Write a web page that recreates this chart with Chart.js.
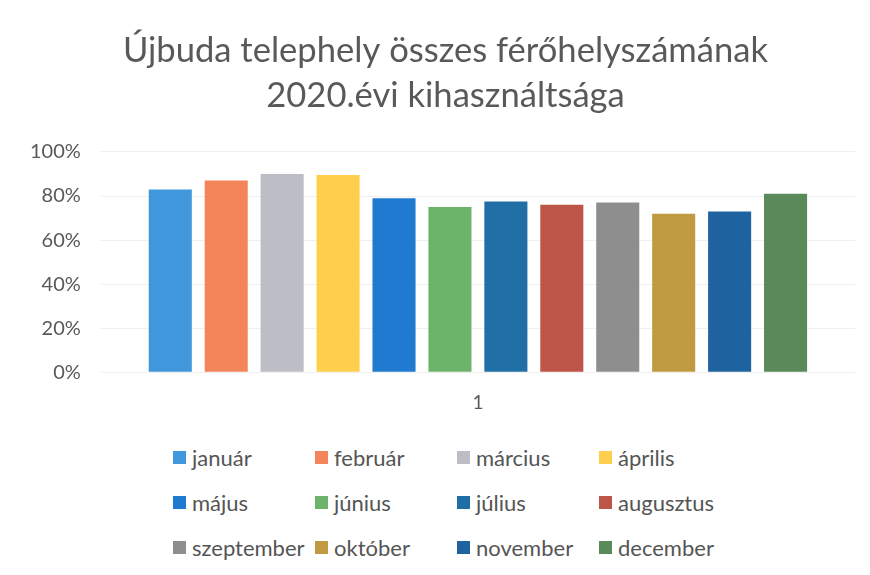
<!DOCTYPE html>
<html lang="hu">
<head>
<meta charset="utf-8">
<script src="https://cdn.jsdelivr.net/npm/chart.js@4"></script>
<style>
  body { margin: 0; background: #fff; }
  #wrap { position: relative; width: 870px; height: 575px; background: #fff; }
  #kihasznaltsag { position: absolute; left: 0; top: 0; }
  #legend {
    position: absolute; left: 173px; top: 435px;
    display: grid; grid-template-columns: 142px 142px 142px 142px;
    grid-auto-rows: 45px;
    font-family: Lato, sans-serif; font-size: 22px; color: #555;
  }
  .item { display: flex; align-items: center; white-space: nowrap; }
  .box { width: 13px; height: 13px; margin-right: 6px; flex: none; }
</style>
</head>
<body>
<div id="wrap">
  <canvas id="kihasznaltsag" width="870" height="431"></canvas>
  <div id="legend"></div>
</div>
<script>
const honapok = ['január', 'február', 'március', 'április', 'május', 'június',
                 'július', 'augusztus', 'szeptember', 'október', 'november', 'december'];
const ertekek = [83, 87, 90, 89.5, 79, 75, 77.5, 76, 77, 72, 73, 81];
const szinek = ['#4197dc', '#f4845a', '#bdbdc6', '#fdcf4d', '#1f7ad0', '#6bb46a',
                '#1f6ea6', '#bd5548', '#8e8e8e', '#c09a40', '#1e63a0', '#5a8a5a'];
const kategoriak = ['1'];
const cim = ['Újbuda telephely összes férőhelyszámának', '2020.évi kihasználtsága'];

const ctx = document.getElementById('kihasznaltsag');

// minden hónap külön adatsor, egyetlen kategóriában
const datasets = honapok.map((h, i) => ({
    label: h,
    data: [ertekek[i]],
    backgroundColor: szinek[i],
    barPercentage: 0.77,
    categoryPercentage: 0.89
}));

// a cím kicsit jobbra tolva, mint az eredetin
const cimEltolas = {
    id: 'cimEltolas',
    beforeDraw(chart) {
        chart.titleBlock.left = 36;
    }
};

new Chart(ctx, {
    type: 'bar',
    data: { labels: kategoriak, datasets: datasets },
    options: {
        responsive: false,
        animation: false,
        layout: { padding: { left: 10, right: 15, bottom: 6 } },
        plugins: {
            legend: { display: false },
            tooltip: { enabled: false },
            title: {
                display: true,
                text: cim,
                color: '#595959',
                font: { family: 'Lato', size: 34.6, weight: 'normal', lineHeight: 1.3 },
                padding: { top: 28, bottom: 34 }
            }
        },
        scales: {
            x: {
                grid: { display: false },
                border: { display: false },
                ticks: { color: '#595959', font: { family: 'Lato', size: 19 }, padding: 11 }
            },
            y: {
                min: 0,
                max: 100,
                ticks: {
                    stepSize: 20,
                    color: '#595959',
                    font: { family: 'Lato', size: 20 },
                    padding: 20,
                    callback: v => v + '%'
                },
                grid: { color: '#efefef', drawTicks: false },
                border: { display: false }
            }
        }
    },
    plugins: [cimEltolas]
});

// jelmagyarázat 4 oszlopban
const legend = document.getElementById('legend');
honapok.forEach((h, i) => {
    const d = document.createElement('div');
    d.className = 'item';
    d.innerHTML = '<span class="box" style="background:' + szinek[i] + '"></span>' + h;
    legend.appendChild(d);
});
</script>
</body>
</html>
